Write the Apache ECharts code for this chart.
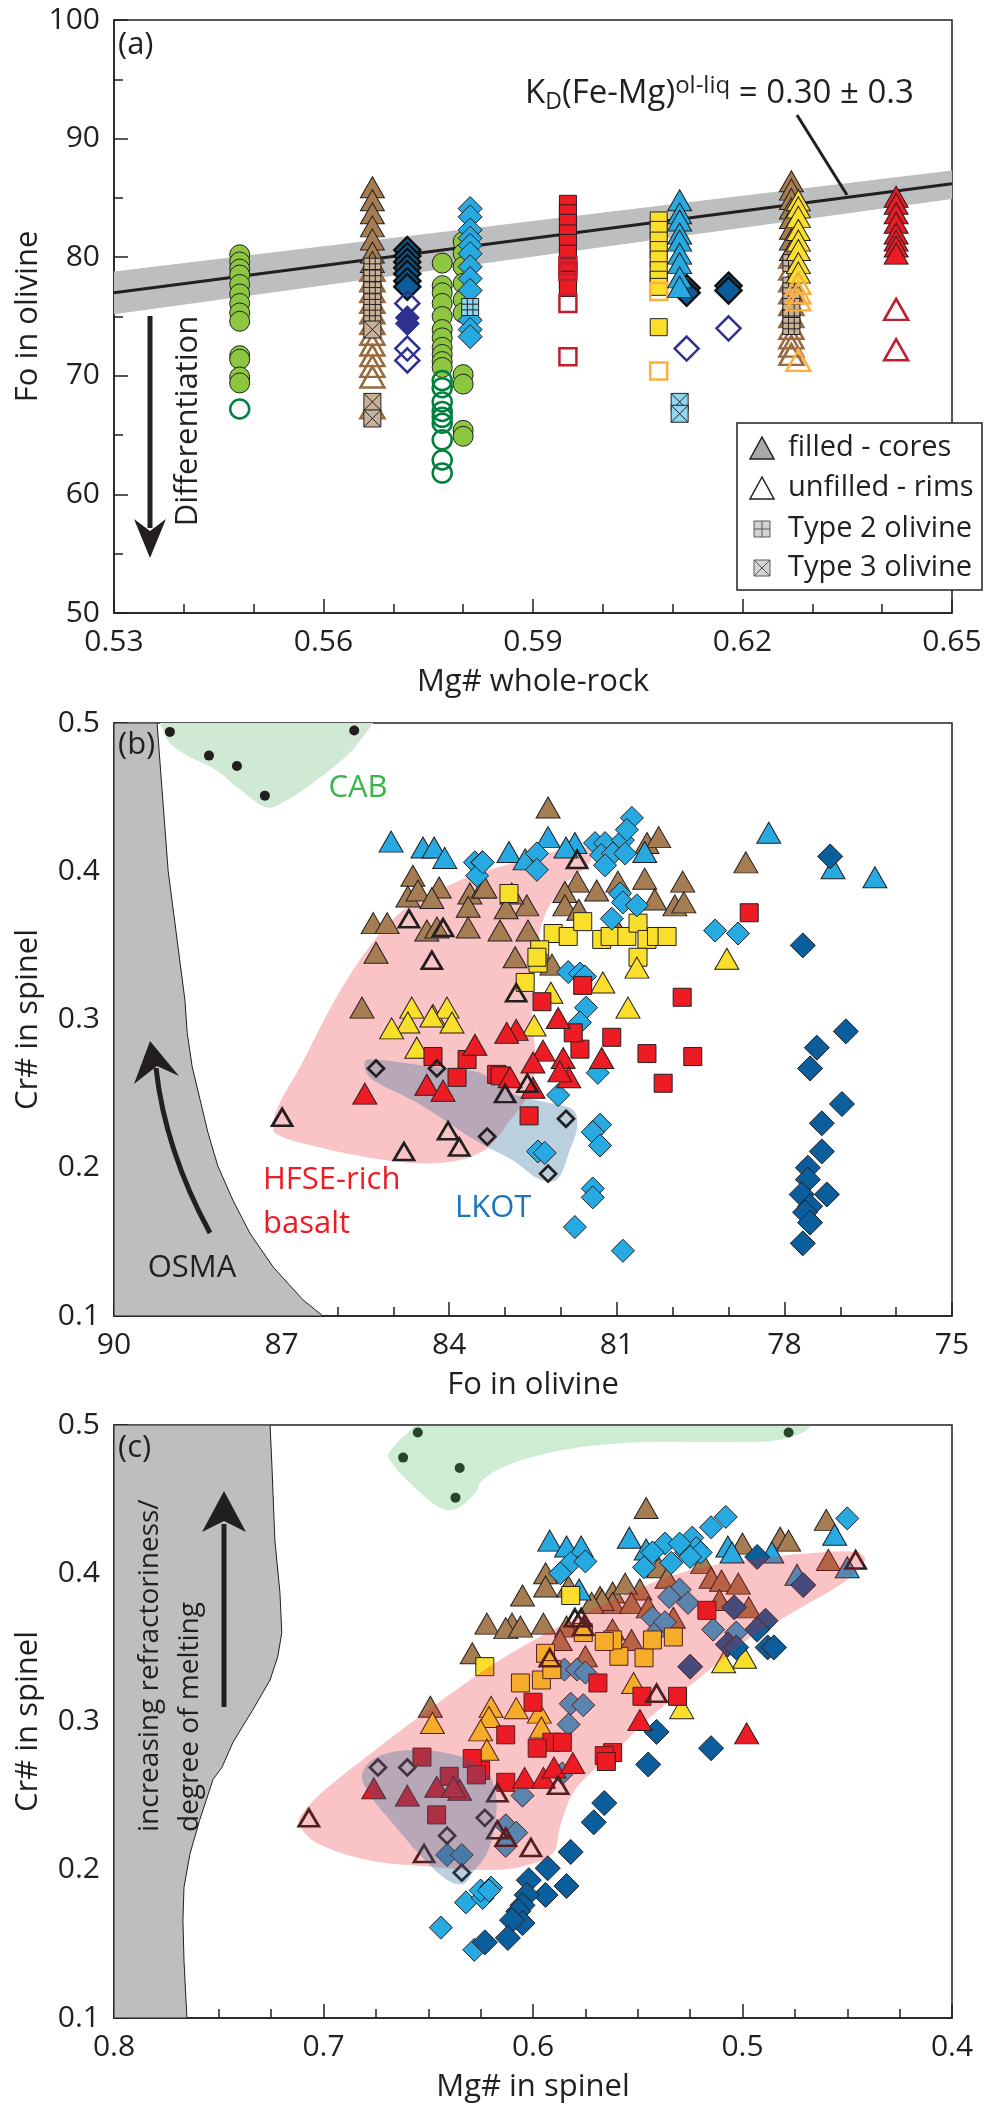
<!DOCTYPE html>
<html>
<head>
<meta charset="utf-8">
<script src="https://cdn.jsdelivr.net/npm/echarts@6/dist/echarts.min.js"></script>
<style>html,body{margin:0;padding:0;background:#fff}#chart{width:984px;height:2112px}</style>
</head>
<body>
<div id="chart"></div>
<script>
// ---------- panel (a): Mg# whole-rock vs Fo in olivine ----------
var aGreenCore=[[0.548,80.2],[0.548,79.6],[0.548,79.0],[0.548,78.5],[0.548,77.7],[0.548,76.9],[0.548,76.1],[0.548,75.3],[0.548,74.6],[0.548,71.7],[0.548,71.4],[0.548,69.9],[0.548,69.4],
  [0.577,79.5],[0.577,77.6],[0.577,77.0],[0.577,76.1],[0.577,75.0],[0.577,73.9],[0.577,73.2],[0.577,72.4],[0.577,71.8],[0.577,71.2],[0.577,70.7],
  [0.580,81.3],[0.580,80.3],[0.580,79.2],[0.580,77.8],[0.580,76.4],[0.580,75.3],[0.580,70.1],[0.580,69.3],[0.580,65.4],[0.580,64.9]];
var aGreenRim=[[0.548,67.2],[0.577,69.6],[0.577,69.0],[0.577,67.8],[0.577,67.0],[0.577,66.5],[0.577,66.0],[0.577,64.6],[0.577,62.9],[0.577,61.8]];
var aBrownCore=[[0.567,85.9],[0.567,84.8],[0.567,83.7],[0.567,82.6],[0.567,81.5],[0.567,80.4],[0.567,79.6],
  [0.627,86.4],[0.627,85.7],[0.627,84.9],[0.627,84.1],[0.627,83.3],[0.627,82.4],[0.627,81.5],[0.627,80.6]];
var aBrownRim=[[0.567,78.9],[0.567,78.0],[0.567,77.1],[0.567,76.2],[0.567,75.3],[0.567,74.4],[0.567,73.5],[0.567,72.6],[0.567,71.7],[0.567,70.8],[0.567,69.9],[0.567,67.3],
  [0.627,80.0],[0.627,79.0],[0.627,78.0],[0.627,77.0],[0.627,76.0],[0.627,75.0],[0.627,74.0],[0.627,73.2],[0.627,72.5],[0.627,71.8]];
var aBrownT2=[[0.567,79.2],[0.567,78.2],[0.567,77.2],[0.567,76.2],[0.567,75.3],[0.627,79.5],[0.627,77.6],[0.627,76.7],[0.627,75.8],[0.627,74.8],[0.627,74.2]];
var aBrownT3=[[0.567,73.9],[0.567,67.8],[0.567,66.4]];
var aDkBlue=[[0.572,80.6],[0.572,80.1],[0.572,79.6],[0.572,79.1],[0.572,78.6],[0.572,78.0],[0.572,77.5],[0.612,77.4],[0.612,77.0],[0.618,77.6],[0.618,77.2]];
var aNavyCore=[[0.572,74.9],[0.572,74.4]];
var aNavyRim=[[0.572,76.1],[0.572,72.3],[0.572,71.3],[0.612,72.3],[0.618,74.0]];
var aLtBlueDia=[[0.581,84.1],[0.581,83.4],[0.581,82.3],[0.581,81.6],[0.581,81.0],[0.581,80.3],[0.581,79.2],[0.581,78.2],[0.581,77.2],[0.581,74.7],[0.581,73.9],[0.581,73.3]];
var aLtBlueT2=[[0.581,75.8]];
var aLtBlueTri=[[0.611,84.8],[0.611,83.7],[0.611,83.1],[0.611,82.0],[0.611,81.4],[0.611,80.3],[0.611,79.5],[0.611,78.3],[0.611,77.5]];
var aLtBlueT3=[[0.611,67.8],[0.611,66.8]];
var aRedSq=[[0.595,84.5],[0.595,83.7],[0.595,82.9],[0.595,82.0],[0.595,81.2],[0.595,80.3],[0.595,79.2],[0.595,78.1],[0.595,77.4]];
var aRedSqRim=[[0.595,79.3],[0.595,78.8],[0.595,76.1],[0.595,71.6]];
var aYelSq=[[0.608,83.1],[0.608,82.3],[0.608,81.4],[0.608,80.6],[0.608,79.8],[0.608,78.9],[0.608,78.1],[0.608,77.5],[0.608,74.1]];
var aYelSqRim=[[0.608,77.1],[0.608,70.4]];
var aYelTri=[[0.628,84.8],[0.628,84.2],[0.628,83.4],[0.628,82.3],[0.628,81.4],[0.628,80.6],[0.628,79.5],[0.628,78.7]];
var aYelTriRim=[[0.628,77.8],[0.628,77.0],[0.628,76.4],[0.628,71.3]];
var aRedTri=[[0.642,85.1],[0.642,84.5],[0.642,83.7],[0.642,82.9],[0.642,82.0],[0.642,81.4],[0.642,80.9],[0.642,80.3]];
var aRedTriRim=[[0.642,75.6],[0.642,72.2]];
var kdLine=[[0.53,77.0],[0.65,86.2]];
var kdBand=[[0.53,78.8],[0.65,87.3],[0.65,84.9],[0.53,75.2]];

// ---------- panel (b): Fo in olivine vs Cr# in spinel ----------
var bLtBlueTri=[[85.04,0.420],[84.47,0.416],[84.27,0.416],[84.08,0.409],[82.23,0.423],[82.93,0.413],[82.64,0.408],[81.75,0.419],[81.91,0.416],[78.28,0.426],[77.13,0.402],[76.38,0.396],[80.5,0.413]];
var bLtBlueDia=[[83.54,0.406],[83.41,0.406],[83.5,0.397],[82.43,0.412],[82.43,0.401],[83.4,0.406],[81.39,0.419],[81.21,0.419],[81.28,0.411],[81.07,0.412],[80.89,0.421],[80.73,0.436],[80.82,0.428],[81.21,0.404],[80.85,0.412],[80.94,0.385],[80.89,0.379],[80.64,0.377],[81.09,0.368],[79.24,0.360],[78.83,0.358],[81.87,0.332],[81.66,0.331],[81.57,0.329],[81.55,0.308],[81.66,0.298],[81.34,0.264],[82.05,0.249],[81.3,0.229],[81.43,0.224],[81.3,0.215],[82.41,0.211],[82.29,0.210],[81.43,0.186],[81.43,0.180],[81.75,0.160],[80.89,0.144]];
var bDkBlueDia=[[77.18,0.410],[77.67,0.350],[76.9,0.292],[77.42,0.281],[77.54,0.267],[76.97,0.243],[77.33,0.230],[77.33,0.211],[77.58,0.200],[77.58,0.192],[77.24,0.182],[77.69,0.182],[77.54,0.174],[77.63,0.170],[77.54,0.163],[77.67,0.149]];
var bBrownTri=[[84.65,0.397],[84.74,0.383],[84.56,0.387],[84.18,0.389],[84.31,0.382],[83.63,0.385],[83.66,0.376],[83.39,0.389],[85.36,0.365],[85.11,0.365],[84.4,0.360],[84.22,0.362],[83.66,0.362],[85.31,0.345],[85.56,0.308],[82.23,0.443],[80.46,0.419],[80.25,0.423],[78.69,0.406],[81.71,0.393],[81.36,0.387],[80.98,0.393],[80.5,0.395],[80.32,0.381],[79.96,0.377],[79.82,0.393],[79.8,0.379],[81.93,0.386],[81.93,0.377],[81.68,0.374],[82.61,0.377],[82.88,0.385],[82.98,0.375],[83.36,0.389],[83.09,0.360],[82.59,0.360],[82.82,0.342],[82.16,0.337],[80.98,0.360]];
var bYelTri=[[84.67,0.308],[84.29,0.303],[84.04,0.308],[84.74,0.298],[83.95,0.298],[85.03,0.294],[84.31,0.302],[84.58,0.281],[79.03,0.341],[81.25,0.325],[82.18,0.318],[80.8,0.308],[82.48,0.296],[80.64,0.335]];
var bYelSq=[[82.93,0.385],[82.14,0.358],[81.87,0.356],[81.61,0.366],[82.38,0.347],[82.41,0.338],[82.64,0.325],[81.27,0.354],[81.12,0.356],[80.82,0.356],[80.62,0.365],[80.46,0.354],[80.29,0.356],[80.1,0.356],[80.62,0.342],[82.43,0.342]];
var bRedSq=[[84.29,0.275],[83.68,0.273],[83.86,0.261],[83.15,0.263],[78.63,0.372],[79.83,0.315],[82.34,0.312],[81.61,0.323],[81.09,0.288],[81.66,0.280],[80.46,0.277],[79.64,0.275],[80.17,0.257],[83.09,0.262],[82.57,0.235],[81.78,0.291]];
var bRedTri=[[85.51,0.250],[84.40,0.256],[84.11,0.252],[83.54,0.283],[82.05,0.301],[82.8,0.293],[82.97,0.291],[82.32,0.279],[81.96,0.274],[82.5,0.271],[81.86,0.261],[82.02,0.265],[81.27,0.274],[82.91,0.261],[82.5,0.254]];
var bOpenTri=[[84.72,0.368],[84.11,0.362],[84.31,0.340],[86.99,0.234],[84.81,0.211],[84.02,0.225],[83.82,0.214],[81.71,0.408],[82.8,0.318],[83.0,0.250],[82.6,0.257]];
var bOpenDia=[[85.31,0.267],[84.22,0.267],[83.32,0.221],[81.91,0.233],[82.23,0.196]];
var bCab=[[89.0,0.494],[85.7,0.495],[88.3,0.478],[87.8,0.471],[87.3,0.451]];
var bOsma=[[90,0.5],[89.23,0.5],[89.03,0.4],[88.73,0.313],[88.69,0.291],[88.6,0.268],[88.46,0.246],[88.32,0.224],[88.14,0.201],[87.87,0.178],[87.57,0.156],[87.15,0.133],[86.62,0.111],[86.26,0.1],[90,0.1]];
var bCabField=[[89.3,0.51],[89.18,0.5],[89.0,0.4865],[88.69,0.478],[88.16,0.468],[87.74,0.455],[87.26,0.443],[86.9,0.448],[86.37,0.4615],[85.78,0.48],[85.36,0.5],[85.2,0.51]];
var bHfse=[[87.15,0.2255],[87.08,0.240],[86.67,0.268],[86.08,0.311],[85.47,0.347],[84.88,0.372],[84.29,0.385],[83.68,0.396],[83.09,0.403],[82.38,0.411],[81.53,0.416],[81.48,0.406],[81.93,0.391],[82.29,0.370],[82.46,0.340],[82.52,0.306],[82.46,0.273],[82.55,0.252],[82.91,0.232],[83.40,0.211],[84.29,0.203],[85.47,0.207],[86.67,0.217],[87.06,0.222]];
var bLkot=[[85.47,0.273],[84.29,0.268],[83.45,0.264],[82.86,0.250],[82.25,0.244],[81.78,0.239],[81.71,0.2275],[81.84,0.212],[82.07,0.192],[82.38,0.192],[82.86,0.205],[83.32,0.214],[83.68,0.222],[84.58,0.244],[85.36,0.259],[85.51,0.267]];

// ---------- panel (c): Mg# in spinel vs Cr# in spinel ----------
var cBrownTri=[[0.622,0.366],[0.629,0.346],[0.649,0.310],[0.546,0.444],[0.460,0.436],[0.482,0.424],[0.500,0.420],[0.478,0.422],[0.605,0.385],[0.594,0.400],[0.594,0.391],[0.583,0.391],[0.610,0.366],[0.613,0.363],[0.606,0.364],[0.595,0.366],[0.549,0.389],[0.562,0.387],[0.556,0.393],[0.568,0.384],[0.519,0.407],[0.540,0.404],
  [0.459,0.409],[0.515,0.397],[0.510,0.395],[0.502,0.393],[0.511,0.382],[0.497,0.377],[0.584,0.364],[0.587,0.355],[0.575,0.344],[0.562,0.380],[0.553,0.380],[0.562,0.362],[0.553,0.355],[0.545,0.377],[0.536,0.397],[0.533,0.370],[0.567,0.382],[0.572,0.380]];
var cYelTri=[[0.499,0.343],[0.529,0.309],[0.620,0.310],[0.608,0.309],[0.597,0.306],[0.596,0.296],[0.552,0.326],[0.509,0.340],[0.621,0.303],[0.648,0.299],[0.625,0.294],[0.622,0.281]];
var cYelSq=[[0.582,0.385],[0.623,0.337],[0.533,0.357],[0.559,0.344],[0.547,0.343],[0.606,0.326],[0.596,0.328],[0.594,0.346],[0.591,0.335],[0.562,0.355],[0.576,0.360],[0.543,0.355],[0.566,0.354]];
var cLtBlueDia=[[0.632,0.178],[0.624,0.181],[0.625,0.186],[0.620,0.188],[0.644,0.161],[0.628,0.146],[0.621,0.186],[0.582,0.407],[0.575,0.408],[0.587,0.400],[0.537,0.420],[0.543,0.414],[0.547,0.404],[0.534,0.407],[0.524,0.424],[0.522,0.417],[0.527,0.414],[0.520,0.414],[0.525,0.411],[0.515,0.431],[0.508,0.438],[0.450,0.437],[0.530,0.420],
  [0.641,0.210],[0.634,0.210],[0.605,0.250],[0.613,0.230],[0.608,0.225],[0.613,0.216],[0.586,0.265],[0.530,0.389],[0.535,0.384],[0.526,0.380],[0.543,0.370],[0.540,0.362],[0.537,0.367],[0.514,0.362],[0.503,0.360],[0.585,0.335],[0.579,0.335],[0.575,0.333],[0.582,0.312],[0.576,0.311],[0.583,0.298]];
var cLtBlueTri=[[0.592,0.422],[0.584,0.418],[0.577,0.418],[0.554,0.424],[0.507,0.418],[0.505,0.414],[0.456,0.426],[0.486,0.414],[0.578,0.389],[0.546,0.416],[0.474,0.399],[0.450,0.404]];
var cDkBlueDia=[[0.493,0.411],[0.488,0.350],[0.485,0.350],[0.541,0.293],[0.515,0.282],[0.545,0.271],[0.566,0.245],[0.571,0.232],[0.582,0.212],[0.593,0.201],[0.584,0.189],[0.602,0.193],[0.594,0.183],[0.603,0.183],[0.605,0.176],[0.607,0.172],[0.605,0.164],[0.610,0.166],[0.612,0.154],[0.623,0.151],
  [0.471,0.392],[0.489,0.368],[0.493,0.362],[0.507,0.352],[0.503,0.350],[0.525,0.337],[0.504,0.377]];
var cRedSq=[[0.517,0.375],[0.569,0.326],[0.600,0.313],[0.548,0.317],[0.531,0.317],[0.613,0.291],[0.591,0.286],[0.598,0.282],[0.562,0.279],[0.566,0.277],[0.586,0.286],[0.613,0.259],[0.565,0.273],[0.625,0.267],[0.653,0.276],[0.629,0.275],[0.640,0.263],[0.627,0.264],[0.646,0.237]];
var cRedTri=[[0.549,0.301],[0.498,0.292],[0.604,0.262],[0.595,0.262],[0.590,0.269],[0.581,0.272],[0.676,0.255],[0.660,0.250],[0.646,0.256],[0.635,0.254],[0.638,0.256]];
var cOpenTri=[[0.580,0.370],[0.577,0.370],[0.576,0.364],[0.446,0.409],[0.592,0.343],[0.541,0.319],[0.707,0.235],[0.652,0.211],[0.617,0.252],[0.601,0.215],[0.588,0.257],[0.617,0.227],[0.613,0.222]];
var cOpenDia=[[0.674,0.269],[0.660,0.269],[0.623,0.235],[0.641,0.223],[0.634,0.198]];
var cCab=[[0.655,0.495],[0.662,0.478],[0.635,0.471],[0.637,0.451],[0.478,0.495]];
var cOsma=[[0.8,0.5],[0.7255,0.5],[0.7246,0.472],[0.7232,0.422],[0.7208,0.387],[0.7199,0.360],[0.7218,0.344],[0.7255,0.328],[0.7337,0.308],[0.7432,0.286],[0.7485,0.269],[0.7527,0.261],[0.759,0.234],[0.7637,0.211],[0.7666,0.188],[0.7671,0.166],[0.7666,0.139],[0.7652,0.1],[0.8,0.1]];
var cCabField=[[0.6692,0.48],[0.6635,0.49],[0.6573,0.4987],[0.655,0.51],[0.47,0.51],[0.4678,0.4987],[0.4821,0.49],[0.5141,0.4885],[0.5456,0.4885],[0.5776,0.485],[0.6014,0.478],[0.6172,0.4696],[0.6253,0.461],[0.6267,0.456],[0.6348,0.4447],[0.641,0.4427],[0.6477,0.447],[0.6635,0.4676],[0.6683,0.4764]];
var cHfse=[[0.7112,0.236],[0.6955,0.2585],[0.6253,0.3327],[0.5933,0.3597],[0.5618,0.382],[0.5298,0.4002],[0.4979,0.4089],[0.4663,0.4137],[0.4453,0.4143],[0.4415,0.4089],[0.4501,0.3954],[0.474,0.3752],[0.4979,0.355],[0.5217,0.328],[0.5456,0.301],[0.5585,0.2828],[0.5695,0.2693],[0.5809,0.2518],[0.5871,0.2288],[0.5905,0.2113],[0.6062,0.2019],[0.6253,0.1998],[0.6477,0.2019],[0.6792,0.2066],[0.7031,0.218],[0.7112,0.229]];
var cLkot=[[0.6816,0.2639],[0.6754,0.2754],[0.6587,0.2808],[0.6372,0.2774],[0.6229,0.2673],[0.6177,0.2504],[0.6186,0.2268],[0.6224,0.2099],[0.6286,0.1985],[0.6334,0.1904],[0.641,0.1931],[0.6539,0.2099],[0.6683,0.2336],[0.6778,0.2504]];

var INK='#231f20';
var FONT="'Open Sans','Noto Sans',sans-serif";
var CLEAR='rgba(255,255,255,0)';
var GRID3='path://M0,0L12,0L12,12L0,12Z M4,0L4,12 M8,0L8,12 M0,4L12,4 M0,8L12,8';
var XSQ='path://M0,0L12,0L12,12L0,12Z M0,0L12,12 M12,0L0,12';
var TRI=[24,21];

function sc(gi,data,sym,size,fill,stroke,bw,z){
  return {type:'scatter',xAxisIndex:gi,yAxisIndex:gi,data:data,symbol:sym,symbolSize:size,silent:true,z:z||3,
    itemStyle:{color:fill,borderColor:stroke,borderWidth:bw,opacity:1}};
}
function field(gi,poly,fill,o){
  o=o||{};
  return {type:'custom',xAxisIndex:gi,yAxisIndex:gi,silent:true,clip:true,z:o.z||1,data:[poly[0]],
    renderItem:function(params,api){
      return {type:'polygon',shape:{points:poly.map(function(p){return api.coord(p);}),smooth:o.smooth||0},
        style:{fill:fill,stroke:o.stroke||null,lineWidth:o.lw||0}};
    }};
}
function axisBase(gi,min,max,step,minor,name,gap,fmt,inverse){
  return {gridIndex:gi,type:'value',min:min,max:max,interval:step,inverse:!!inverse,
    name:name,nameLocation:'middle',nameGap:gap,nameMoveOverlap:false,
    nameTextStyle:{fontSize:31,fontFamily:FONT,color:INK},
    axisLine:{show:true,onZero:false,lineStyle:{color:INK,width:1.5}},
    axisTick:{show:true,inside:true,length:14,lineStyle:{color:INK,width:1.5}},
    minorTick:{show:true,splitNumber:minor,length:9,lineStyle:{color:INK,width:1.5}},
    splitLine:{show:false},
    axisLabel:{fontSize:30,fontFamily:FONT,color:INK,margin:14,showMinLabel:true,showMaxLabel:true,formatter:fmt}};
}
function txt(x,y,s,size,color,extra){
  var e={type:'text',x:x,y:y,z:50,silent:true,
    style:{text:s,fontSize:size,fontFamily:FONT,fill:color,align:'left',verticalAlign:'middle'}};
  if(extra){for(var k in extra){if(k==='style'){for(var j in extra.style)e.style[j]=extra.style[j];}else e[k]=extra[k];}}
  return e;
}
function seg(x1,y1,x2,y2,w){return {type:'line',z:50,silent:true,shape:{x1:x1,y1:y1,x2:x2,y2:y2},style:{stroke:INK,lineWidth:w}};}
function poly(pts,fill,stroke,lw,z){return {type:'polygon',z:z||50,silent:true,shape:{points:pts},style:{fill:fill,stroke:stroke||null,lineWidth:lw||0}};}

var f2=function(v){return v.toFixed(2);};
var f1=function(v){return v.toFixed(1);};
var f0=function(v){return String(Math.round(v));};

var gridBox={show:true,borderColor:INK,borderWidth:1.5,backgroundColor:'transparent',outerBoundsMode:'none',containLabel:false};

var option={
  backgroundColor:'#ffffff',
  animation:false,
  grid:[
    Object.assign({left:114,top:20,width:838,height:593},gridBox),
    Object.assign({left:114,top:723,width:838,height:593},gridBox),
    Object.assign({left:114,top:1425,width:838,height:593},gridBox)
  ],
  xAxis:[
    axisBase(0,0.53,0.65,0.03,3,'Mg# whole-rock',54,f2,false),
    axisBase(1,75,90,3,3,'Fo in olivine',54,f0,true),
    axisBase(2,0.4,0.8,0.1,4,'Mg# in spinel',54,f1,true)
  ],
  yAxis:[
    axisBase(0,50,100,10,2,'Fo in olivine',70,f0,false),
    axisBase(1,0.1,0.5,0.1,2,'Cr# in spinel',70,f1,false),
    axisBase(2,0.1,0.5,0.1,2,'Cr# in spinel',70,f1,false)
  ],
  series:[
    // panel (a)
    field(0,kdBand,'#bcbec0'),
    {type:'line',xAxisIndex:0,yAxisIndex:0,data:kdLine,symbol:'none',silent:true,z:2,lineStyle:{color:INK,width:3}},
    sc(0,aGreenCore,'circle',20,'#8dc63f',INK,1),
    sc(0,aGreenRim,'circle',19,CLEAR,'#00803f',2.5),
    sc(0,aBrownRim,'triangle',TRI,CLEAR,'#9a6a3e',2.5),
    sc(0,aBrownCore,'triangle',TRI,'#a67c52',INK,1),
    sc(0,aBrownT2,GRID3,17,'#c7b299',INK,1),
    sc(0,aBrownT3,XSQ,17,'#c7b299',INK,1),
    sc(0,aDkBlue,'diamond',26,'#0b5e9c','#111111',2.5),
    sc(0,aNavyCore,'diamond',24,'#2e3192','#2e3192',1),
    sc(0,aNavyRim,'diamond',24,CLEAR,'#2e3192',2.5),
    sc(0,aLtBlueDia,'diamond',24,'#27aae1',INK,1),
    sc(0,aLtBlueT2,GRID3,17,'#8fd6f2',INK,1),
    sc(0,aRedSq,'rect',17,'#ed1c24',INK,1),
    sc(0,aRedSqRim,'rect',17,CLEAR,'#be1e2d',2.5),
    sc(0,aYelSq,'rect',17,'#f9df2a',INK,1),
    sc(0,aYelSqRim,'rect',17,CLEAR,'#fbb040',2.5),
    sc(0,aLtBlueTri,'triangle',TRI,'#27aae1',INK,1),
    sc(0,aLtBlueT3,XSQ,17,'#8fd6f2',INK,1),
    sc(0,aYelTri,'triangle',TRI,'#f9df2a',INK,1),
    sc(0,aYelTriRim,'triangle',TRI,CLEAR,'#fbb040',2.5),
    sc(0,aRedTri,'triangle',TRI,'#ed1c24',INK,1),
    sc(0,aRedTriRim,'triangle',TRI,CLEAR,'#be1e2d',2.5),
    // panel (b)
    field(1,bOsma,'#bcbec0',{stroke:INK,lw:1}),
    field(1,bCabField,'#cfe9d5',{smooth:0.35}),
    field(1,bHfse,'rgba(237,28,36,0.26)',{smooth:0.35}),
    field(1,bLkot,'rgba(30,100,150,0.3)',{smooth:0.35}),
    sc(1,bCab,'circle',10,INK,INK,0),
    sc(1,bBrownTri,'triangle',TRI,'#a67c52',INK,1),
    sc(1,bLtBlueTri,'triangle',TRI,'#27aae1',INK,1),
    sc(1,bYelSq,'rect',18,'#f9df2a',INK,1),
    sc(1,bLtBlueDia,'diamond',23,'#27aae1',INK,1),
    sc(1,bYelTri,'triangle',TRI,'#f9df2a',INK,1),
    sc(1,bRedSq,'rect',18,'#ed1c24',INK,1),
    sc(1,bRedTri,'triangle',TRI,'#ed1c24',INK,1),
    sc(1,bDkBlueDia,'diamond',25,'#0b5e9c',INK,1),
    sc(1,bOpenTri,'triangle',[20,17],CLEAR,INK,2.7),
    sc(1,bOpenDia,'diamond',16,CLEAR,INK,2.7),
    // panel (c): coloured fields lie over the points
    field(2,cOsma,'#bcbec0',{stroke:INK,lw:1}),
    sc(2,cCab,'circle',10,INK,INK,0),
    sc(2,cBrownTri,'triangle',TRI,'#a67c52',INK,1),
    sc(2,cLtBlueTri,'triangle',TRI,'#27aae1',INK,1),
    sc(2,cLtBlueDia,'diamond',23,'#27aae1',INK,1),
    sc(2,cYelSq,'rect',18,'#f9df2a',INK,1),
    sc(2,cYelTri,'triangle',TRI,'#f9df2a',INK,1),
    sc(2,cDkBlueDia,'diamond',25,'#0b5e9c',INK,1),
    sc(2,cRedSq,'rect',18,'#ed1c24',INK,1),
    sc(2,cRedTri,'triangle',TRI,'#ed1c24',INK,1),
    sc(2,cOpenTri,'triangle',[20,17],CLEAR,INK,2.7),
    sc(2,cOpenDia,'diamond',16,CLEAR,INK,2.7),
    field(2,cCabField,'rgba(57,181,74,0.25)',{smooth:0.35,z:5}),
    field(2,cHfse,'rgba(237,28,36,0.26)',{smooth:0.35,z:5}),
    field(2,cLkot,'rgba(30,100,150,0.3)',{smooth:0.35,z:5})
  ],
  graphic:[
    // panel (a) annotations
    txt(118,45,'(a)',31,INK),
    seg(150,316,150,528,5),
    poly([[134,519],[150,531],[166,519],[150,558]],INK),
    txt(188,421,'Differentiation',31,INK,{rotation:Math.PI/2,style:{align:'center'}}),
    seg(797,115,847,195,3),
    {type:'text',x:525,y:74,z:50,silent:true,style:{
      text:'{n|K}{s|D}{n|(Fe-Mg)}{p|ol-liq}{n| = 0.30 \u00b1 0.3}',align:'left',verticalAlign:'top',
      rich:{n:{fontSize:33,fontFamily:FONT,fill:INK,lineHeight:40,verticalAlign:'middle'},
            s:{fontSize:23,fontFamily:FONT,fill:INK,lineHeight:24,verticalAlign:'bottom'},
            p:{fontSize:24,fontFamily:FONT,fill:INK,lineHeight:31,verticalAlign:'top'}}}},
    // legend box
    {type:'rect',z:100,silent:true,shape:{x:737,y:423,width:245,height:167},style:{fill:'#ffffff',stroke:INK,lineWidth:1.5}},
    poly([[750,459],[774,459],[762,437]],'#a7a9ac',INK,1.5,101),
    poly([[750,499],[774,499],[762,477]],'#ffffff',INK,1.5,101),
    {type:'rect',z:101,silent:true,shape:{x:754,y:521,width:16,height:16},style:{fill:'#d1d3d4',stroke:'#58595b',lineWidth:1}},
    {type:'line',z:102,silent:true,shape:{x1:762,y1:521,x2:762,y2:537},style:{stroke:'#58595b',lineWidth:1}},
    {type:'line',z:102,silent:true,shape:{x1:754,y1:529,x2:770,y2:529},style:{stroke:'#58595b',lineWidth:1}},
    {type:'rect',z:101,silent:true,shape:{x:754,y:560,width:16,height:16},style:{fill:'#d1d3d4',stroke:'#58595b',lineWidth:1}},
    {type:'line',z:102,silent:true,shape:{x1:754,y1:560,x2:770,y2:576},style:{stroke:'#58595b',lineWidth:1}},
    {type:'line',z:102,silent:true,shape:{x1:770,y1:560,x2:754,y2:576},style:{stroke:'#58595b',lineWidth:1}},
    txt(788,448,'filled - cores',29,INK,{z:102}),
    txt(788,488,'unfilled - rims',29,INK,{z:102}),
    txt(788,529,'Type 2 olivine',29,INK,{z:102}),
    txt(788,568,'Type 3 olivine',29,INK,{z:102}),
    // panel (b) annotations
    txt(118,745,'(b)',31,INK),
    txt(358,788,'CAB',31,'#39b54a',{style:{align:'center'}}),
    txt(263,1180,'HFSE-rich',31,'#ed1c24'),
    txt(263,1224,'basalt',31,'#ed1c24'),
    txt(455,1208,'LKOT',31,'#1c75bc'),
    txt(192,1268,'OSMA',31,INK,{style:{align:'center'}}),
    {type:'bezierCurve',z:50,silent:true,shape:{x1:210,y1:1233,cpx1:165,cpy1:1150,x2:156,y2:1068},style:{stroke:INK,lineWidth:5,fill:'none'}},
    poly([[134,1084],[157,1066],[179,1076],[150,1041]],INK),
    // panel (c) annotations
    txt(118,1448,'(c)',31,INK),
    txt(150,1832,'increasing refractoriness/',28,INK,{rotation:Math.PI/2}),
    txt(190,1832,'degree of melting',28,INK,{rotation:Math.PI/2}),
    seg(224,1707,224,1524,5),
    poly([[202,1532],[224,1521],[246,1532],[224,1491]],INK)
  ]
};

var chart=echarts.init(document.getElementById('chart'),null,{renderer:'canvas'});
chart.setOption(option);
</script>
</body>
</html>
